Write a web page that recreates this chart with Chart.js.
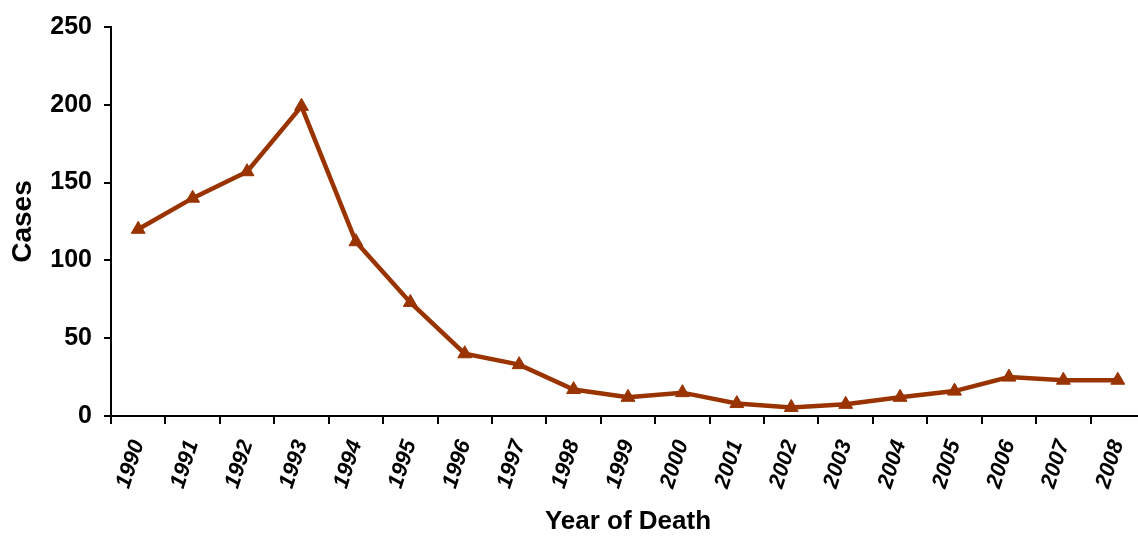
<!DOCTYPE html>
<html>
<head>
<meta charset="utf-8">
<script src="https://cdn.jsdelivr.net/npm/chart.js@4/dist/chart.umd.min.js"></script>
<style>
  html, body { margin: 0; padding: 0; background: #ffffff; overflow: hidden; }
  #c { position: absolute; left: 0; top: 0; }
</style>
</head>
<body>
<canvas id="c" width="1154" height="538" style="width:1154px;height:538px"></canvas>
<script>
const years = ['1990','1991','1992','1993','1994','1995','1996','1997','1998','1999','2000','2001','2002','2003','2004','2005','2006','2007','2008'];
const cases = [120, 140, 157, 199, 112, 73, 40, 33, 17, 12, 15, 8, 5.5, 7.5, 12, 16, 25, 23, 23];
const yTicks = [0, 50, 100, 150, 200, 250];
const xTitle = 'Year of Death';
const yTitle = 'Cases';

const FONT = '"Liberation Sans", Arial, sans-serif';
const LINE = '#993300';

new Chart(document.getElementById('c'), {
  type: 'line',
  data: {
    labels: years,
    datasets: [{
      data: cases,
      borderColor: LINE,
      backgroundColor: LINE,
      borderWidth: 4.5,
      pointStyle: 'triangle',
      pointRadius: 8,
      pointBorderWidth: 1,
      pointBorderColor: LINE,
      pointBackgroundColor: LINE,
      tension: 0,
      fill: false
    }]
  },
  options: {
    responsive: false,
    maintainAspectRatio: false,
    devicePixelRatio: 1,
    animation: false,
    events: [],
    layout: { padding: { top: 24, left: 2, right: 0, bottom: 1 } },
    plugins: { legend: { display: false }, tooltip: { enabled: false } },
    scales: {
      x: {
        type: 'category',
        offset: true,
        border: { display: true, color: '#000', width: 2 },
        grid: { display: true, offset: true, drawOnChartArea: false, drawTicks: true, tickLength: 8, color: '#000', lineWidth: 2 },
        ticks: {
          autoSkip: false,
          minRotation: 72,
          maxRotation: 72,
          padding: 13,
          color: '#000',
          font: { family: FONT, size: 22, weight: 'bold', style: 'italic' }
        },
        title: {
          display: true,
          text: xTitle,
          color: '#000',
          padding: { top: 0, bottom: 0 },
          font: { family: FONT, size: 26, weight: 'bold' }
        },
        afterFit(scale) { scale.height = 121; scale.paddingLeft = 0; scale.paddingRight = 0; }
      },
      y: {
        min: 0,
        max: 250,
        afterBuildTicks(scale) { scale.ticks = yTicks.map(v => ({ value: v })); },
        border: { display: true, color: '#000', width: 2 },
        grid: { display: true, drawOnChartArea: false, drawTicks: true, tickLength: 7, color: '#000', lineWidth: 2 },
        ticks: {
          padding: 12,
          color: '#000',
          font: { family: FONT, size: 25, weight: 'bold' }
        },
        title: {
          display: true,
          text: yTitle,
          color: '#000',
          padding: { top: 4, bottom: 4 },
          font: { family: FONT, size: 28, weight: 'bold' }
        },
        afterFit(scale) { scale.width = 109; }
      }
    }
  }
});
</script>
</body>
</html>
